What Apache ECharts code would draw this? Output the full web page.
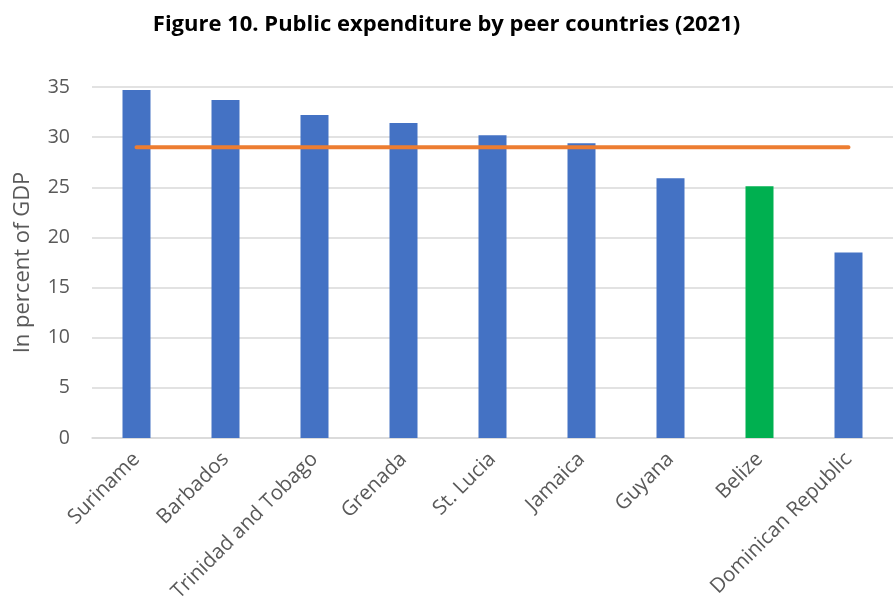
<!DOCTYPE html>
<html>
<head>
<meta charset="utf-8">
<script src="https://cdn.jsdelivr.net/npm/echarts@6/dist/echarts.min.js"></script>
<style>
  html, body { margin: 0; padding: 0; background: #fff; }
  #chart { width: 893px; height: 605px; }
</style>
</head>
<body>
<div id="chart"></div>
<script>
const countries = ['Suriname', 'Barbados', 'Trinidad and Tobago', 'Grenada', 'St. Lucia', 'Jamaica', 'Guyana', 'Belize', 'Dominican Republic']
const expenditure = [34.7, 33.7, 32.2, 31.4, 30.2, 29.4, 25.9, 25.1, 18.5]
const peerAverage = [29, 29, 29, 29, 29, 29, 29, 29, 29]
const highlight = 'Belize'

const font = '"Open Sans", sans-serif'

const chart = echarts.init(document.getElementById('chart'))
chart.setOption({
  animation: false,
  title: {
    text: 'Figure 10. Public expenditure by peer countries (2021)',
    left: 'center',
    top: 9,
    textStyle: { fontFamily: font, fontWeight: 'bold', fontSize: 22, color: '#000' },
  },
  grid: { left: 92, width: 810, top: 87, bottom: 167 },
  xAxis: {
    type: 'category',
    data: countries,
    axisTick: { show: false },
    axisLine: { lineStyle: { color: '#d9d9d9', width: 1.5 } },
    axisLabel: { rotate: 45, interval: 0, color: '#595959', fontSize: 20.5, fontFamily: font, margin: 18, padding: [0, 0, 0, 0] },
  },
  yAxis: {
    type: 'value',
    min: 0,
    max: 35,
    interval: 5,
    name: 'In percent of GDP',
    nameLocation: 'middle',
    nameGap: 58,
    nameTextStyle: { color: '#595959', fontSize: 22, fontFamily: font },
    axisLabel: { color: '#595959', fontSize: 19.5, fontFamily: font, margin: 22 },
    splitLine: { lineStyle: { color: '#d9d9d9', width: 1.5 } },
  },
  series: [
    {
      type: 'bar',
      data: expenditure.map((v, i) => ({
        value: v,
        itemStyle: { color: countries[i] === highlight ? '#00B050' : '#4472C4' },
      })),
      barWidth: 28,
    },
    {
      type: 'line',
      data: peerAverage,
      symbol: 'none',
      lineStyle: { color: '#ED7D31', width: 4, cap: 'round' },
    },
  ],
})
</script>
</body>
</html>
